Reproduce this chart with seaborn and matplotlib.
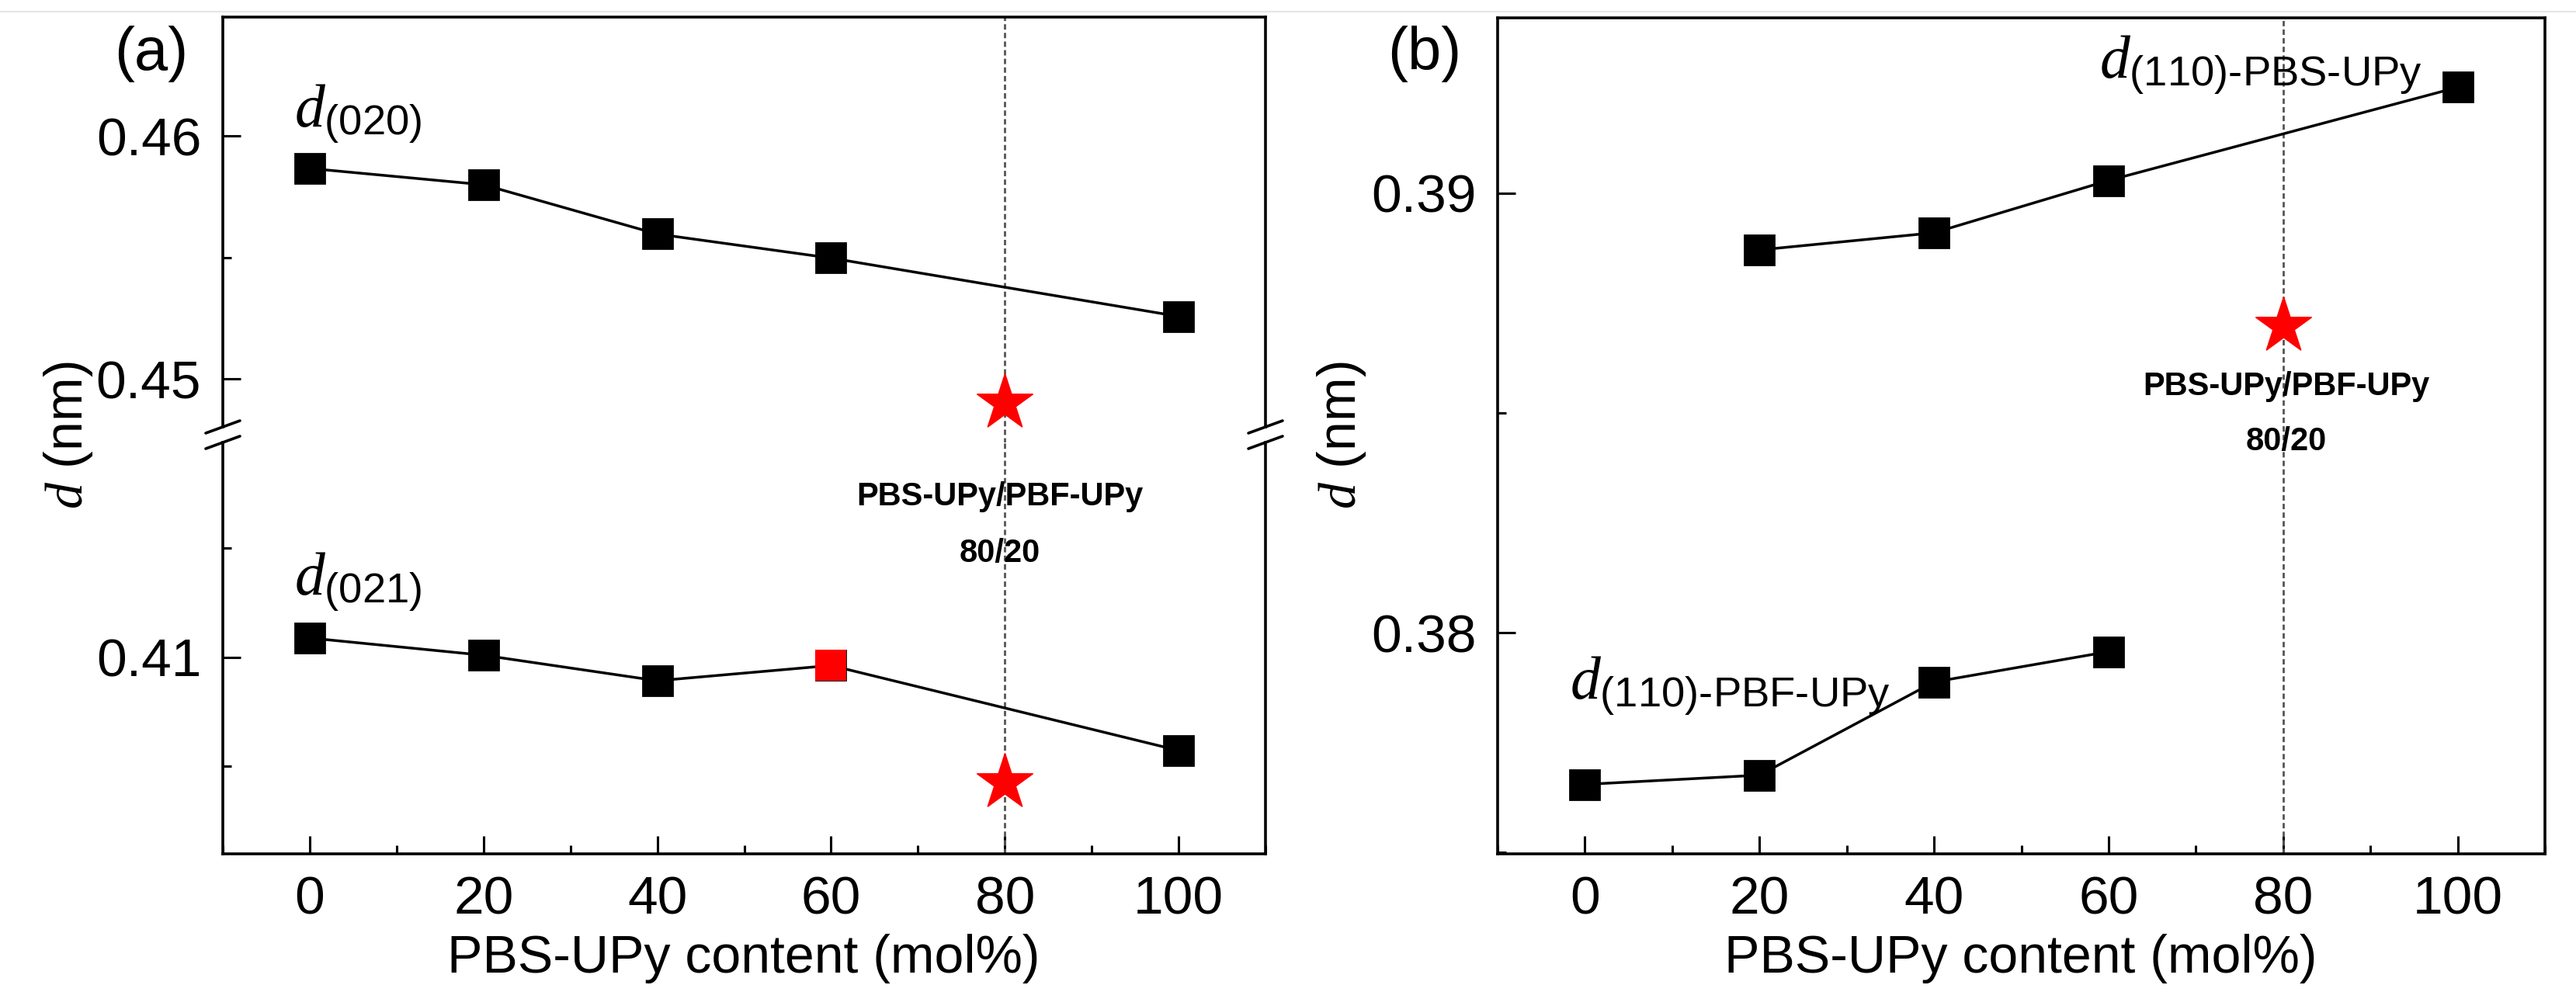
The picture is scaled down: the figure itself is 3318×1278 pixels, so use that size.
import numpy as np
import pandas as pd
import matplotlib
matplotlib.use('Agg')
import matplotlib.pyplot as plt
import seaborn as sns
from matplotlib.lines import Line2D
from matplotlib.ticker import MultipleLocator, FormatStrFormatter

# ---------------- data ----------------
# panel (a): d-spacings vs PBS-UPy content
x_a = [0, 20, 40, 60, 100]
d020 = [0.45866, 0.45799, 0.45596, 0.45497, 0.45257]
d021 = [0.41088, 0.41009, 0.40892, 0.40962, 0.40572]
red_x_a = [60]
red_d021 = [0.40962]
blend_x = [80]
blend_d020 = [0.44902]
blend_d021 = [0.40427]

# panel (b)
x_pbs = [20, 40, 60, 100]
d110_pbs = [0.38871, 0.38910, 0.39029, 0.39241]
x_pbf = [0, 20, 40, 60]
d110_pbf = [0.37655, 0.37676, 0.37888, 0.37957]
blend_d110 = [0.38698]

xticks = [0, 20, 40, 60, 80, 100]

# ---------------- style ----------------
sns.set_theme(style='ticks')
plt.rcParams['font.family'] = ['Liberation Sans', 'DejaVu Sans']
plt.rcParams['mathtext.fontset'] = 'custom'
plt.rcParams['mathtext.rm'] = 'Liberation Sans'
plt.rcParams['mathtext.it'] = 'Liberation Serif:italic'
plt.rcParams['mathtext.bf'] = 'Liberation Sans:bold'
for k in ('text.color', 'axes.labelcolor', 'xtick.color', 'ytick.color',
          'axes.edgecolor'):
    plt.rcParams[k] = 'black'

W, H = 3318, 1278


def box(l, t, r, b):
    return [l / W, 1 - b / H, (r - l) / W, (b - t) / H]


fig = plt.figure(figsize=(W / 200, H / 200), dpi=200)
ax_top = fig.add_axes(box(287, 22, 1630, 550))
ax_bot = fig.add_axes(box(287, 570, 1630, 1100))
ax_b = fig.add_axes(box(1929, 23, 3278, 1100))

# faint scan line at the very top
fig.add_artist(Line2D([0, 1], [1 - 15 / H] * 2, color='#e6e6e6', lw=0.8,
                      transform=fig.transFigure))

line_kw = dict(color='black', lw=1.25, marker='s', markersize=13.4,
               markeredgewidth=1, markeredgecolor='black', errorbar=None)
star_kw = dict(marker='*', s=27 ** 2, color='red', edgecolor='red',
               linewidth=0.6, zorder=5)
dash_kw = dict(color='#555555', lw=1.0, ls=(0, (2.5, 1.5)), zorder=1)
lab_kw = dict(fontsize=28, ha='left', va='baseline')
note_kw = dict(fontsize=15, fontweight='bold', ha='center', va='baseline')


def style(ax):
    ax.set_xlim(-10, 110)
    ax.xaxis.set_major_locator(MultipleLocator(20))
    ax.xaxis.set_minor_locator(MultipleLocator(10))
    ax.yaxis.set_major_locator(MultipleLocator(0.01))
    ax.yaxis.set_minor_locator(MultipleLocator(0.005))
    ax.yaxis.set_major_formatter(FormatStrFormatter('%.2f'))
    ax.tick_params(which='both', direction='in', top=False, right=False,
                   width=1.1, labelsize=25, pad=10, color='black',
                   labelcolor='black')
    ax.tick_params(which='major', length=8.3)
    ax.tick_params(which='minor', length=4.0)
    for s in ax.spines.values():
        s.set_linewidth(1.3)
        s.set_color('black')
    ax.set_facecolor('white')


# ---------------- panel (a) ----------------
sns.lineplot(x=x_a, y=d020, ax=ax_top, **line_kw)
sns.lineplot(x=x_a, y=d021, ax=ax_bot, **line_kw)
sns.scatterplot(x=red_x_a, y=red_d021, ax=ax_bot, marker='s', s=14.4 ** 2,
                color='red', linewidth=0, zorder=4)
sns.scatterplot(x=blend_x, y=blend_d020, ax=ax_top, **star_kw)
sns.scatterplot(x=blend_x, y=blend_d021, ax=ax_bot, **star_kw)

for ax in (ax_top, ax_bot, ax_b):
    style(ax)

ax_top.set_ylim(0.44802, 0.46489)
ax_bot.set_ylim(0.40098, 0.41985)
ax_top.spines['bottom'].set_visible(False)
ax_bot.spines['top'].set_visible(False)
ax_top.tick_params(axis='x', which='both', bottom=False, labelbottom=False)
ax_top.axvline(80, ymin=-0.04, ymax=1, clip_on=False, **dash_kw)
ax_bot.axvline(80, **dash_kw)

# axis-break marks
dx, dy = 22 / 1343, 8 / 528
for xx in (0, 1):
    ax_top.plot([xx - dx, xx + dx], [-dy, dy], transform=ax_top.transAxes,
                color='black', lw=1.3, clip_on=False)
    ax_bot.plot([xx - dx, xx + dx], [1 - dy, 1 + dy], transform=ax_bot.transAxes,
                color='black', lw=1.3, clip_on=False)

ax_top.text(-1.8, 0.46038, r'$d_{\mathrm{(020)}}$', **lab_kw)
ax_bot.text(-1.8, 0.41288, r'$d_{\mathrm{(021)}}$', **lab_kw)
ax_bot.text(79.4, 0.41695, 'PBS-UPy/PBF-UPy', **note_kw)
ax_bot.text(79.4, 0.41438, '80/20', **note_kw)
ax_bot.set_xticks(xticks)

# ---------------- panel (b) ----------------
sns.lineplot(x=x_pbs, y=d110_pbs, ax=ax_b, **line_kw)
sns.lineplot(x=x_pbf, y=d110_pbf, ax=ax_b, **line_kw)
sns.scatterplot(x=blend_x, y=blend_d110, ax=ax_b, **star_kw)
ax_b.set_ylim(0.37497, 0.39399)
ax_b.axvline(80, **dash_kw)
ax_b.set_xticks(xticks)
ax_b.text(58.9, 0.39262, r'$d_{\text{(110)-PBS-UPy}}$', **lab_kw)
ax_b.text(-1.7, 0.3785, r'$d_{\text{(110)-PBF-UPy}}$', **lab_kw)
ax_b.text(80.4, 0.38540, 'PBS-UPy/PBF-UPy', **note_kw)
ax_b.text(80.4, 0.38415, '80/20', **note_kw)

for ax in (ax_top, ax_bot, ax_b):
    ax.set_xlabel('')
    ax.set_ylabel('')

# axis titles and panel letters
fig.text(958 / W, 1 - 1253 / H, 'PBS-UPy content (mol%)', fontsize=24.5,
         ha='center', va='baseline')
fig.text(2603 / W, 1 - 1253 / H, 'PBS-UPy content (mol%)', fontsize=24.5,
         ha='center', va='baseline')
fig.text(88 / W, 1 - 561 / H, r'$d$ (nm)', fontsize=24.5, rotation=90,
         ha='center', va='center')
fig.text(1728 / W, 1 - 561 / H, r'$d$ (nm)', fontsize=24.5, rotation=90,
         ha='center', va='center')
fig.text(147 / W, 1 - 90 / H, '(a)', fontsize=28, ha='left', va='baseline')
fig.text(1787 / W, 1 - 90 / H, '(b)', fontsize=28, ha='left', va='baseline')

fig.savefig('out.png', dpi=200, facecolor='white')
